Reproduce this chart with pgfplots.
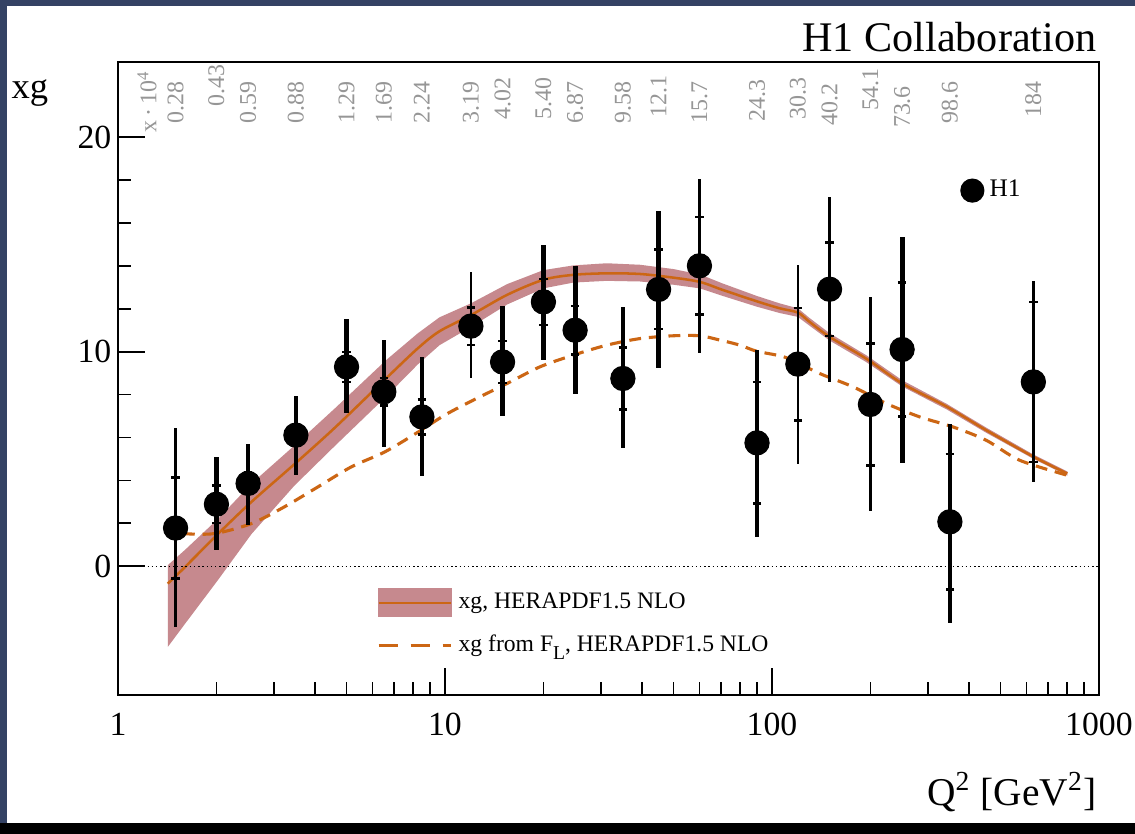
\documentclass[border=0pt]{standalone}
\usepackage{fontspec}
\setmainfont{Liberation Serif}
\usepackage{pgfplots}
\usepackage{pgfplotstable}
\pgfplotsset{compat=1.18}
\definecolor{slideblue}{RGB}{52,66,100}
\definecolor{bandc}{RGB}{198,137,142}
\definecolor{orangec}{RGB}{204,102,20}
\definecolor{labgray}{RGB}{150,150,150}

% Q2  xg  err+  err-  inner
\pgfplotstableread{
x y ep em ie
2.0 2.89 2.18 2.14 0.88
5.0 9.29 2.22 2.17 0.70
8.5 6.96 2.77 2.76 0.82
15 9.52 2.62 2.53 0.97
20 12.32 2.65 2.72 1.07
25 11.00 2.99 2.98 1.13
45 12.90 3.65 3.68 1.85
250 10.10 5.25 5.28 3.13
}\dataA
\pgfplotstableread{
x y ep em ie
2.5 3.86 1.86 1.95 0.50
3.5 6.11 1.83 1.87 0.45
6.5 8.13 2.41 2.57 0.65
35 8.75 3.34 3.26 1.45
60 14.00 4.04 4.04 2.27
90 5.75 4.32 4.38 2.83
150 12.91 4.31 4.32 2.17
350 2.07 4.58 4.71 3.15
}\dataB
\pgfplotstableread{
x y ep em ie
1.5 1.78 4.64 4.61 2.35
12 11.19 2.53 2.44 0.88
120 9.42 4.61 4.66 2.62
200 7.54 5.02 4.96 2.84
630 8.59 4.70 4.66 3.73
}\dataC

% HERAPDF1.5 central curve
\pgfplotstableread{
x c
1.42 -0.81
1.6 -0.05
2.02 1.50
2.56 3.00
3.46 4.75
4.6 6.45
6.6 8.75
8.25 10.15
9.62 10.95
12 11.70
15.5 12.65
20 13.35
24.7 13.58
31.2 13.65
39.5 13.62
49.9 13.45
60.2 13.25
70.6 12.88
89.7 12.35
105.6 12.02
120 11.82
130 11.40
150 10.69
194 9.68
250 8.52
343 7.43
452 6.34
631 5.10
800 4.32
}\centraltab

% HERAPDF1.5 band outline: upper edge, then lower edge reversed
\pgfplotstableread{
x y
1.42 0.05
1.6 0.75
2.02 2.20
2.56 3.85
3.46 5.62
4.6 7.35
6.6 9.60
8.25 10.85
9.62 11.60
12 12.25
15.5 13.15
20 13.80
24.7 14.02
31.2 14.12
39.5 14.05
49.9 13.85
60.2 13.60
70.6 13.18
89.7 12.60
105.6 12.25
120 12.02
130 11.58
150 10.86
194 9.84
250 8.67
343 7.56
452 6.46
631 5.20
800 4.42
800 4.22
631 5.00
452 6.22
343 7.30
250 8.38
194 9.52
150 10.52
130 11.22
120 11.62
105.6 11.80
89.7 12.10
70.6 12.60
60.2 12.95
49.9 13.12
39.5 13.27
31.2 13.30
24.7 13.22
20 12.95
15.5 12.20
12 11.15
9.62 10.30
8.25 9.40
6.6 7.90
4.6 5.60
3.46 3.75
2.56 1.50
2.02 -0.65
1.6 -2.70
1.42 -3.76
}\bandtab

% xg from FL
\pgfplotstableread{
x y
1.58 1.52
1.97 1.52
2.56 1.99
3.23 2.77
4.09 3.70
5.17 4.63
6.55 5.33
8.29 6.26
10.0 7.05
12.2 7.74
15.5 8.52
19.5 9.29
24.7 9.84
31.2 10.30
39.5 10.61
49.9 10.74
60.2 10.74
69.3 10.54
79.9 10.30
89.8 10.02
110.6 9.72
140 8.98
177 8.36
224 7.58
283 6.96
358 6.49
452 5.87
572 4.94
800 4.24
}\fltab

\begin{document}
\begin{tikzpicture}
\fill[slideblue] (0,0) rectangle (141.875mm,104.25mm);
\fill[white] (0.875mm,1.375mm) rectangle (141.875mm,103.5mm);
\fill[black] (0,0) rectangle (141.875mm,1.375mm);
\begin{axis}[
  name=main,
  at={(14.75mm,17.375mm)}, anchor=south west,
  scale only axis, width=122.625mm, height=79.125mm,
  xmode=log, xmin=1, xmax=1000, ymin=-6, ymax=23.5,
  clip=false,
  axis line style={line width=0.7pt},
  tick align=inside, xtick pos=bottom, ytick pos=left,
  major tick length=3.4mm, minor tick length=1.6mm,
  every tick/.style={black, line width=0.6pt},
  xtick={1,10,100,1000}, xticklabels={1,10,100,1000},
  ytick={0,10,20}, minor y tick num=4,
  tick label style={font=\fontsize{12}{14}\selectfont},
  /pgf/number format/assume math mode=true,
  xticklabel style={yshift=-1mm},
  yticklabel style={xshift=0.4mm},
  legend style={draw=none, fill=none, font=\fontsize{8.4}{10}\selectfont,
    at={(0.255,0.18)}, anchor=north west, row sep=1.4mm,
    /tikz/every even column/.append style={column sep=1mm}},
  legend cell align=left,
]
\addplot[fill=bandc, draw=none, forget plot] table[x=x,y=y]{\bandtab};
\addplot[orangec, line width=0.9pt, smooth, forget plot] table[x=x,y=c]{\centraltab};
\addplot[orangec, line width=1.1pt, dash pattern=on 4.2pt off 2.8pt, smooth, forget plot] table[x=x,y=y]{\fltab};
\draw[densely dotted, line width=0.5pt] (axis cs:1,0) -- (axis cs:1000,0);

% data: outer errors
\addplot[only marks, mark=*, mark size=4.3pt, black, forget plot,
  error bars/.cd, y dir=both, y explicit, error mark=none,
  error bar style={line width=1.7pt}]
  table[x=x,y=y,y error plus=ep,y error minus=em]{\dataA};
\addplot[only marks, mark=*, mark size=4.3pt, black, forget plot,
  error bars/.cd, y dir=both, y explicit, error mark=none,
  error bar style={line width=1.3pt}]
  table[x=x,y=y,y error plus=ep,y error minus=em]{\dataB};
\addplot[only marks, mark=*, mark size=4.3pt, black, forget plot,
  error bars/.cd, y dir=both, y explicit, error mark=none,
  error bar style={line width=0.9pt}]
  table[x=x,y=y,y error plus=ep,y error minus=em]{\dataC};
% inner ticks
\addplot[only marks, mark=none, black, forget plot,
  error bars/.cd, y dir=both, y explicit, error mark=-,
  error bar style={line width=0.8pt},
  error mark options={rotate=90, mark size=1.5pt, line width=0.9pt}]
  table[x=x,y=y,y error=ie]{\dataA};
\addplot[only marks, mark=none, black, forget plot,
  error bars/.cd, y dir=both, y explicit, error mark=-,
  error bar style={line width=0.8pt},
  error mark options={rotate=90, mark size=1.5pt, line width=0.9pt}]
  table[x=x,y=y,y error=ie]{\dataB};
\addplot[only marks, mark=none, black, forget plot,
  error bars/.cd, y dir=both, y explicit, error mark=-,
  error bar style={line width=0.8pt},
  error mark options={rotate=90, mark size=1.5pt, line width=0.9pt}]
  table[x=x,y=y,y error=ie]{\dataC};

\addlegendimage{legend image code/.code={
  \fill[bandc] (0mm,-1.75mm) rectangle (9.1mm,1.75mm);
  \draw[orangec, line width=0.9pt] (0mm,0mm) -- (9.1mm,0mm);}}
\addlegendentry{xg, HERAPDF1.5 NLO}
\addlegendimage{legend image code/.code={
  \draw[orangec, line width=1.1pt, dash pattern=on 2.4mm off 1.6mm] (0mm,0mm) -- (9.1mm,0mm);}}
\addlegendentry{xg from F\raisebox{-0.7ex}{\scriptsize L}, HERAPDF1.5 NLO}

% x values at top
\tikzset{xl/.style={rotate=90, anchor=west, inner sep=0pt, text=labgray, font=\fontsize{8.5}{10}\selectfont}}
\node[xl] at (axis cs:1.227,20.2) {x\,·\,10\textsuperscript{4}};
\node[xl] at (axis cs:1.5,20.6) {0.28};
\node[xl] at (axis cs:2.0,21.4) {0.43};
\node[xl] at (axis cs:2.5,20.6) {0.59};
\node[xl] at (axis cs:3.5,20.6) {0.88};
\node[xl] at (axis cs:5.0,20.6) {1.29};
\node[xl] at (axis cs:6.5,20.6) {1.69};
\node[xl] at (axis cs:8.5,20.6) {2.24};
\node[xl] at (axis cs:12,20.6) {3.19};
\node[xl] at (axis cs:15,20.8) {4.02};
\node[xl] at (axis cs:20,20.8) {5.40};
\node[xl] at (axis cs:25,20.6) {6.87};
\node[xl] at (axis cs:35,20.6) {9.58};
\node[xl] at (axis cs:45,20.9) {12.1};
\node[xl] at (axis cs:60,20.6) {15.7};
\node[xl] at (axis cs:90,20.7) {24.3};
\node[xl] at (axis cs:120,20.8) {30.3};
\node[xl] at (axis cs:150,20.5) {40.2};
\node[xl] at (axis cs:200,21.2) {54.1};
\node[xl] at (axis cs:250,20.4) {73.6};
\node[xl] at (axis cs:350,20.6) {98.6};
\node[xl] at (axis cs:630,20.9) {184};

\node[anchor=east, inner sep=0pt, font=\fontsize{15}{17}\selectfont] at (rel axis cs:0.998,1.04) {H1 Collaboration};
\node[font=\fontsize{13}{15}\selectfont] at (rel axis cs:-0.0897,0.951) {xg};
\node[anchor=east, inner sep=0pt, font=\fontsize{14}{16}\selectfont] at (rel axis cs:0.998,-0.153) {Q\textsuperscript{2} [GeV\textsuperscript{2}]};
\end{axis}
\begin{axis}[
  at={(14.75mm,17.375mm)}, anchor=south west,
  scale only axis, width=122.625mm, height=79.125mm,
  xmode=log, xmin=1, xmax=1000, ymin=-6, ymax=23.5,
  hide axis,
  legend style={draw=none, fill=none, font=\fontsize{9}{11}\selectfont,
    at={(0.85,0.832)}, anchor=north west,
    /tikz/every even column/.append style={column sep=0.6mm}},
]
\addplot[draw=none, mark=none, forget plot] coordinates {(1,-6) (1000,23.5)};
\addlegendimage{only marks, mark=*, mark size=4.1pt, black}
\addlegendentry{H1}
\end{axis}
\pgfresetboundingbox
\path[use as bounding box] (0,0) rectangle (141.875mm,104.25mm);
\end{tikzpicture}
\end{document}
